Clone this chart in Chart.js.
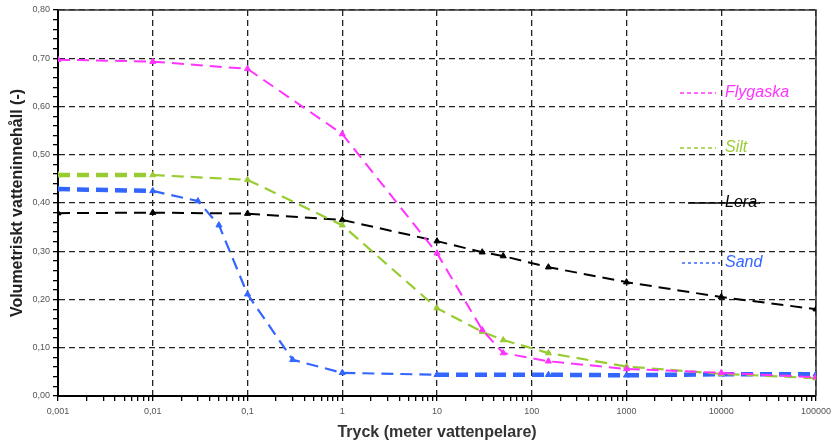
<!DOCTYPE html>
<html>
<head>
<meta charset="utf-8">
<script src="https://cdn.jsdelivr.net/npm/chart.js@4.4.1/dist/chart.umd.min.js"></script>
<style>
  html, body { margin: 0; padding: 0; background: #fff; }
  #wrap { width: 831px; height: 443px; }
</style>
</head>
<body>
<div id="wrap"><canvas id="chart"></canvas></div>
<script>
// tryck (m vp) och vatteninnehåll per jordart
const flygaskaTryck = [0.001, 0.01, 0.1, 1, 10, 30, 50, 150, 1000, 10000, 100000];
const flygaskaVarden = [0.697, 0.693, 0.678, 0.543, 0.296, 0.137, 0.089, 0.072, 0.056, 0.048, 0.039];

const siltTryck = [0.001, 0.01, 0.1, 1, 10, 30, 50, 150, 1000, 10000, 100000];
const siltVarden = [0.458, 0.458, 0.448, 0.354, 0.182, 0.133, 0.116, 0.089, 0.061, 0.046, 0.037];

const leraTryck = [0.001, 0.01, 0.1, 1, 10, 30, 50, 150, 1000, 10000, 100000];
const leraVarden = [0.379, 0.380, 0.378, 0.365, 0.321, 0.298, 0.290, 0.267, 0.236, 0.205, 0.180];

const sandTryck = [0.001, 0.01, 0.03, 0.05, 0.1, 0.3, 1, 10, 150, 1000, 10000, 100000];
const sandVarden = [0.429, 0.425, 0.404, 0.354, 0.211, 0.075, 0.048, 0.044, 0.044, 0.043, 0.045, 0.045];

const xDekader = [0.001, 0.01, 0.1, 1, 10, 100, 1000, 10000, 100000];
const xMinor = [1, 2, 3, 4, 5, 6, 7, 8, 9];

// segment som ritas tjockare i originalet
const siltTjocka = [0];
const sandTjocka = [0, 7, 8, 9, 10];

const pts = (xs, ys) => xs.map((x, i) => ({x: x, y: ys[i]}));

const xTicks = [];
xDekader.slice(0, -1).forEach(d => xMinor.forEach(m => xTicks.push(+(d * m).toPrecision(3))));
xTicks.push(xDekader[xDekader.length - 1]);

const isMajorY = v => Math.abs(v * 10 - Math.round(v * 10)) < 1e-6;
const FONT = '"Liberation Sans", Arial, sans-serif';

function serie(label, xs, ys, color, width, thick) {
    return {
        label: label,
        data: pts(xs, ys),
        borderColor: color,
        backgroundColor: color,
        borderWidth: width,
        borderDash: [12, 7],
        pointStyle: 'triangle',
        pointRadius: 3.5,
        pointBorderWidth: 1,
        tension: 0,
        segment: thick ? {
            borderWidth: ctx => thick.includes(ctx.p0DataIndex) ? 4.5 : width
        } : undefined
    };
}

const legendPlugin = {
    id: 'inlineLegend',
    afterDraw(chart) {
        const ctx = chart.ctx;
        const items = [
            {text: 'Flygaska', color: '#ff33ff', y: 93, x1: 680, x2: 716, dash: [4, 3]},
            {text: 'Silt', color: '#99cc33', y: 148, x1: 680, x2: 716, dash: [4, 3]},
            {text: 'Lera', color: '#000000', y: 203, x1: 688, x2: 760, dash: []},
            {text: 'Sand', color: '#3366ff', y: 263, x1: 682, x2: 720, dash: [3, 3]}
        ];
        ctx.save();
        items.forEach(it => {
            ctx.fillStyle = it.color;
            ctx.font = 'italic 16px ' + FONT;
            ctx.textBaseline = 'middle';
            ctx.fillText(it.text, 725, it.y);
            ctx.strokeStyle = it.color;
            ctx.lineWidth = 1.3;
            ctx.setLineDash(it.dash);
            ctx.beginPath();
            ctx.moveTo(it.x1, it.y);
            ctx.lineTo(it.x2, it.y);
            ctx.stroke();
        });
        ctx.restore();
    }
};

const framePlugin = {
    id: 'frame',
    beforeDatasetsDraw(chart) {
        const {ctx, chartArea} = chart;
        ctx.save();
        ctx.strokeStyle = '#333';
        ctx.lineWidth = 1.5;
        ctx.beginPath();
        ctx.moveTo(chartArea.left, chartArea.top);
        ctx.lineTo(chartArea.right, chartArea.top);
        ctx.lineTo(chartArea.right, chartArea.bottom);
        ctx.stroke();
        ctx.restore();
    }
};

new Chart(document.getElementById('chart').getContext('2d'), {
    type: 'line',
    data: {
        datasets: [
            serie('Flygaska', flygaskaTryck, flygaskaVarden, '#ff33ff', 2),
            serie('Silt', siltTryck, siltVarden, '#99cc33', 2.2, siltTjocka),
            serie('Lera', leraTryck, leraVarden, '#000000', 2),
            serie('Sand', sandTryck, sandVarden, '#3366ff', 2.2, sandTjocka)
        ]
    },
    options: {
        responsive: true,
        maintainAspectRatio: false,
        animation: false,
        layout: {padding: {top: 10, right: 15, left: 0, bottom: 0}},
        plugins: {
            legend: {display: false},
            tooltip: {enabled: false}
        },
        scales: {
            x: {
                type: 'logarithmic',
                min: 0.001,
                max: 100000,
                afterBuildTicks: s => { s.ticks = xTicks.map(v => ({value: v})); },
                afterFit: s => { s.height = 47; s.paddingRight = 0; s.paddingLeft = 0; },
                grid: {
                    color: c => xDekader.includes(c.tick.value) ? '#222' : 'rgba(0,0,0,0)',
                    tickColor: '#000',
                    lineWidth: 1.3,
                    tickLength: 5
                },
                border: {display: true, color: '#000', width: 2, dash: [6, 4]},
                ticks: {
                    autoSkip: false,
                    maxRotation: 0,
                    padding: 5,
                    color: '#555',
                    font: {size: 9, family: FONT},
                    callback: v => xDekader.includes(v) ? String(v).replace('.', ',') : ''
                },
                title: {
                    display: true,
                    text: 'Tryck (meter vattenpelare)',
                    color: '#333',
                    font: {size: 16, weight: 'bold', family: FONT},
                    padding: {top: 0, bottom: 1}
                }
            },
            y: {
                min: 0,
                max: 0.8,
                afterFit: s => { s.width = 58; s.paddingTop = 0; s.paddingBottom = 0; },
                grid: {
                    color: c => isMajorY(c.tick.value) ? '#222' : 'rgba(0,0,0,0)',
                    tickColor: '#000',
                    lineWidth: 1.3,
                    tickLength: 5
                },
                border: {display: true, color: '#000', width: 2, dash: [6, 4]},
                ticks: {
                    stepSize: 0.02,
                    autoSkip: false,
                    padding: 3,
                    color: '#555',
                    font: {size: 9, family: FONT},
                    callback: v => isMajorY(v) ? v.toFixed(2).replace('.', ',') : ''
                },
                title: {
                    display: true,
                    text: 'Volumetriskt vatteninnehåll (-)',
                    color: '#222',
                    font: {size: 16, weight: 'bold', family: FONT},
                    padding: {top: 8, bottom: 0}
                }
            }
        }
    },
    plugins: [framePlugin, legendPlugin]
});
</script>
</body>
</html>
